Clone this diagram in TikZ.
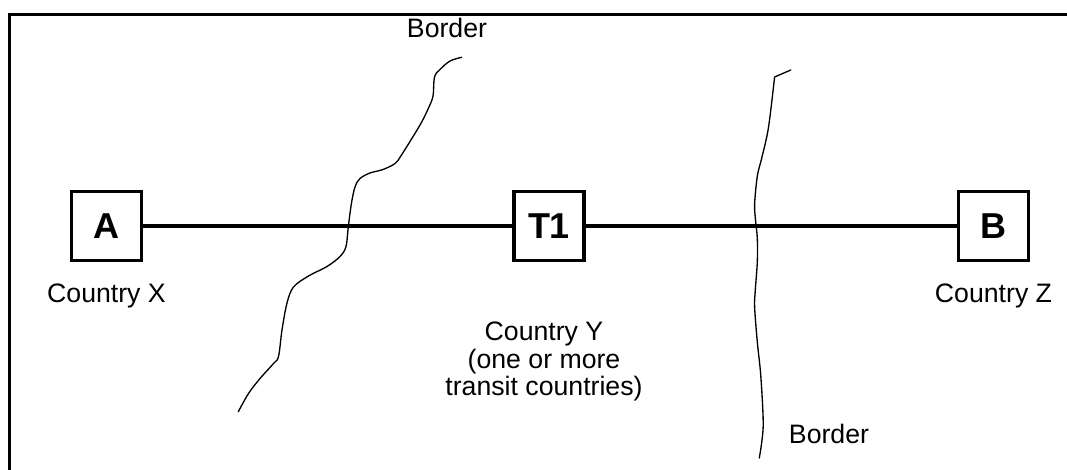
\documentclass[tikz,border=0pt]{standalone}
\usepackage{fontspec}
\setmainfont{Liberation Sans}
\begin{document}
\begin{tikzpicture}[x=0.75pt,y=-0.75pt,
  site/.style={draw,line width=2.4pt,minimum width=52.5pt,minimum height=51.75pt,
    inner sep=0pt,font=\fontsize{27}{32}\selectfont\bfseries},
  link/.style={line width=2.6pt},
  borderline/.style={line width=1pt,line join=round,line cap=round},
  lbl/.style={inner sep=0pt,font=\fontsize{20}{20.6}\selectfont},
  frame/.style={line width=2.2pt}]
\useasboundingbox (0,0) rectangle (1067,470);
\clip (0,0) rectangle (1067,470);
% outer frame (continues past the right and bottom edges)
\draw[frame] (9.5,480) |- (1080,14.5);

% sites and the route between them
\node[site] (A)  at (106.5,226) {A};
\node[site] (T1) at (549,226)   {T1};
\node[site] (B)  at (993.5,226) {B};
\draw[link] (A) -- (T1);
\draw[link] (T1) -- (B);

% country labels
\node[lbl,anchor=base] (cx) at (106.5,302) {Country X};
\node[lbl,anchor=base] (cz) at (993.5,302) {Country Z};
\node[lbl,align=center,anchor=north] (cy) at (544,322)
  {Country Y\\(one or more\\transit countries)};

% border labels
\node[lbl,anchor=base] (bt) at (447,38)  {Border};
\node[lbl,anchor=base] (bb) at (829,443) {Border};

% first border (X / Y)
\draw[borderline] plot[smooth,tension=0.55] coordinates {
  (461.7,57.3) (450,61) (440,69.5) (434.5,77) (433,96) (428.5,108) (420,125)
  (401.5,155) (395,163.5) (383,169.5) (370,173) (360,178.5) (355,187)
  (351.5,203) (348.3,226.7) (346,246.5) (340,256.5) (327,266.5) (308.5,276)
  (293.5,287) (287,303) (282,330) (278.5,356.5) (273.5,363.5) (260,378.5)
  (248.5,393.5) (238.3,411.7)};

% second border (Y / Z)
\draw[borderline] (790.8,70) -- plot[smooth,tension=0.5] coordinates {
  (774.6,77) (768.4,128) (761.5,159) (757.3,176) (754.6,204) (755.6,221)
  (757.3,238) (757.3,262) (755.3,290) (754.6,307) (757.3,342) (760.8,376)
  (763.2,426) (759.3,458)};
\end{tikzpicture}
\end{document}
